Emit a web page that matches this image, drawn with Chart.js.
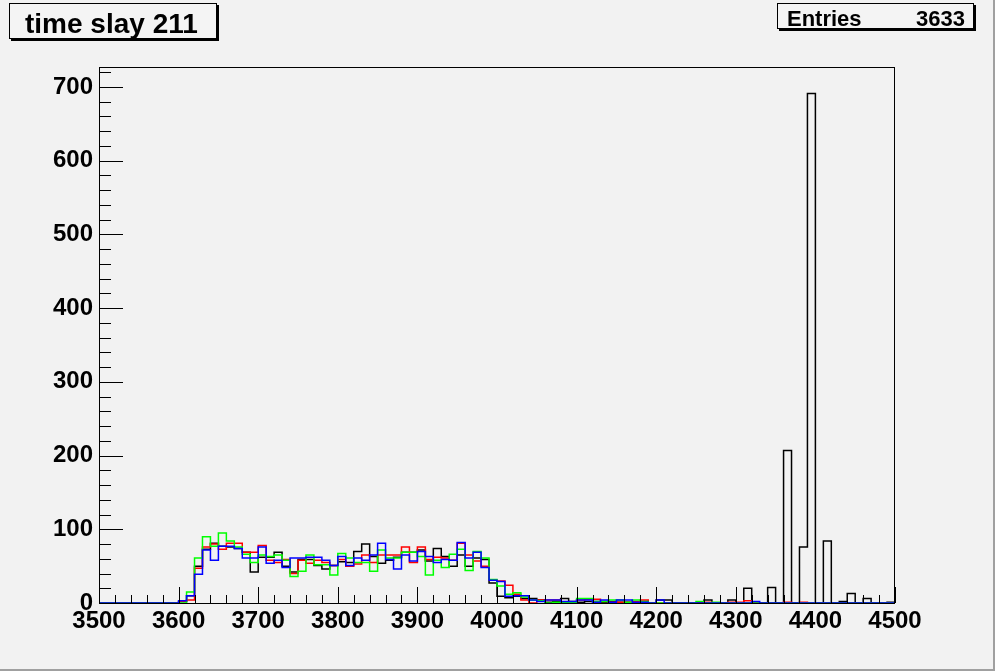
<!DOCTYPE html>
<html>
<head>
<meta charset="utf-8">
<script src="https://cdn.jsdelivr.net/npm/chart.js@4.4.1/dist/chart.umd.min.js"></script>
<style>
  html, body { margin: 0; padding: 0; background: #f2f2f2; }
  canvas { display: block; }
</style>
</head>
<body>
<canvas id="myChart" width="995" height="671"></canvas>
<script>
// bin lower edges: 3500, 3510, ... 4490 (100 bins of width 10)
var binStart = 3500;
var binWidth = 10;

var blackCounts = [
    0, 0, 0, 0, 0, 0, 0, 0, 0, 0,
    2, 10, 50, 73, 81, 77, 76, 74, 69, 42,
    62, 62, 69, 50, 42, 59, 59, 51, 46, 51,
    56, 55, 70, 80, 63, 54, 58, 62, 69, 69,
    72, 57, 74, 63, 50, 65, 50, 61, 59, 27,
    9, 7, 9, 6, 6, 4, 1, 2, 6, 2,
    1, 2, 2, 1, 2, 1, 1, 1, 2, 0,
    4, 4, 0, 0, 0, 0, 4, 0, 0, 4,
    0, 20, 0, 0, 21, 0, 207, 0, 76, 691,
    0, 84, 0, 2, 13, 0, 6, 0, 0, 1
];
var redCounts = [
    0, 0, 0, 0, 0, 0, 0, 0, 0, 0,
    2, 4, 47, 76, 80, 73, 81, 81, 69, 69,
    78, 58, 55, 59, 40, 58, 54, 58, 55, 51,
    59, 50, 53, 65, 55, 65, 65, 65, 76, 55,
    76, 59, 62, 61, 58, 81, 65, 57, 50, 31,
    30, 24, 12, 4, 0, 4, 4, 4, 1, 1,
    4, 5, 5, 2, 1, 1, 1, 2, 4, 0,
    0, 0, 0, 0, 0, 0, 1, 0, 0, 1,
    1, 3, 0, 0, 0, 0, 1, 0, 1, 0,
    0, 0, 0, 0, 0, 0, 0, 0, 0, 0
];
var greenCounts = [
    0, 0, 0, 0, 0, 0, 0, 0, 0, 0,
    0, 15, 61, 90, 77, 95, 84, 76, 66, 55,
    65, 63, 65, 58, 36, 43, 65, 52, 52, 38,
    67, 61, 55, 55, 43, 72, 61, 61, 69, 69,
    63, 38, 58, 48, 66, 73, 44, 70, 61, 32,
    23, 12, 14, 8, 4, 3, 0, 1, 1, 1,
    6, 6, 2, 2, 4, 4, 1, 4, 2, 0,
    0, 0, 0, 0, 0, 2, 0, 1, 0, 0,
    0, 0, 0, 0, 0, 0, 0, 0, 0, 0,
    0, 0, 0, 0, 0, 0, 0, 0, 0, 0
];
var blueCounts = [
    0, 0, 0, 0, 0, 0, 0, 0, 0, 0,
    3, 10, 39, 72, 58, 77, 77, 74, 61, 61,
    76, 54, 58, 48, 61, 61, 62, 62, 58, 51,
    63, 51, 61, 58, 65, 81, 59, 46, 65, 57,
    70, 63, 55, 59, 58, 82, 61, 69, 48, 31,
    29, 9, 10, 10, 4, 2, 4, 4, 2, 2,
    4, 4, 1, 4, 1, 4, 4, 1, 1, 0,
    4, 0, 0, 0, 0, 0, 0, 0, 0, 0,
    0, 0, 2, 0, 0, 0, 0, 0, 0, 0,
    0, 0, 0, 0, 0, 0, 0, 0, 0, 0
];

var xTickValues = [3500, 3600, 3700, 3800, 3900, 4000, 4100, 4200, 4300, 4400, 4500];
var yTickValues = [0, 100, 200, 300, 400, 500, 600, 700];

var titleText = "time slay 211";
var entriesLabel = "Entries";
var entriesValue = "3633";

var labelFont = { family: "'Liberation Sans', Arial, sans-serif", size: 24, weight: "bold" };

// histogram outline: one point per lower bin edge, plus the right edge back to 0
function toSteps(counts) {
    let pts = [];
    for (let i = 0; i < counts.length; i++) {
        pts.push({ x: binStart + i * binWidth, y: counts[i] });
    }
    pts.push({ x: binStart + counts.length * binWidth, y: 0 });
    return pts;
}

function hist(counts, color, order) {
    return {
        data: toSteps(counts),
        borderColor: color,
        borderWidth: 1.5,
        stepped: true,
        fill: false,
        pointRadius: 0,
        order: order
    };
}

function box(ctx, x, y, w, h) {
    ctx.fillStyle = "#000";
    ctx.fillRect(x + 2, y + 2, w + 1, h + 1);
    ctx.fillStyle = "#f4f4f4";
    ctx.fillRect(x, y, w, h);
    ctx.strokeStyle = "#000";
    ctx.lineWidth = 1;
    ctx.strokeRect(x + 0.5, y + 0.5, w, h);
}

var rootStyle = {
    id: "rootStyle",
    beforeDraw(chart) {
        let ctx = chart.ctx;
        ctx.save();
        ctx.fillStyle = "#f2f2f2";
        ctx.fillRect(0, 0, chart.width, chart.height);
        ctx.restore();
    },
    afterDatasetsDraw(chart) {
        let ctx = chart.ctx;
        let a = chart.chartArea;
        let xs = chart.scales.x, ys = chart.scales.y;
        ctx.save();
        ctx.strokeStyle = "#000";
        ctx.lineWidth = 1;
        ctx.beginPath();
        // x ticks, pointing inwards
        for (let v = 3500; v <= 4500; v += 20) {
            let px = Math.round(xs.getPixelForValue(v)) + 0.5;
            let len = (v % 100 === 0) ? 16 : 8;
            ctx.moveTo(px, a.bottom);
            ctx.lineTo(px, a.bottom - len);
        }
        // y ticks
        for (let v = 0; v <= ys.max; v += 20) {
            let py = Math.round(ys.getPixelForValue(v)) + 0.5;
            let len = (v % 100 === 0) ? 24 : 12;
            ctx.moveTo(a.left, py);
            ctx.lineTo(a.left + len, py);
        }
        ctx.stroke();
        ctx.strokeRect(Math.round(a.left) + 0.5, Math.round(a.top) + 0.5,
            Math.round(a.right - a.left) - 1, Math.round(a.bottom - a.top));

        // canvas edge
        ctx.fillStyle = "#a0a0a0";
        ctx.fillRect(0, chart.height - 2, chart.width, 2);
        ctx.fillRect(chart.width - 2, 0, 2, chart.height);

        // title and stats boxes
        box(ctx, 9, 3, 207, 35);
        ctx.fillStyle = "#000";
        ctx.font = "bold 28px 'Liberation Sans', Arial, sans-serif";
        ctx.textBaseline = "alphabetic";
        ctx.textAlign = "left";
        ctx.fillText(titleText, 25, 33);

        box(ctx, 777, 3, 196, 25);
        ctx.fillStyle = "#000";
        ctx.font = "bold 22px 'Liberation Sans', Arial, sans-serif";
        ctx.textAlign = "left";
        ctx.fillText(entriesLabel, 787, 26);
        ctx.textAlign = "right";
        ctx.fillText(entriesValue, 965, 26);
        ctx.restore();
    }
};

new Chart("myChart", {
    type: "line",
    data: {
        datasets: [
            hist(blueCounts, "#0000ff", 0),
            hist(greenCounts, "#00ff00", 1),
            hist(redCounts, "#ff0000", 2),
            hist(blackCounts, "#000000", 3)
        ]
    },
    options: {
        responsive: false,
        animation: false,
        layout: { padding: { top: 67, right: 100, left: 0, bottom: 0 } },
        plugins: {
            legend: { display: false },
            tooltip: { enabled: false }
        },
        scales: {
            x: {
                type: "linear",
                min: 3500,
                max: 4500,
                afterBuildTicks: s => { s.ticks = xTickValues.map(v => ({ value: v })); },
                afterFit: s => { s.height = 68; },
                ticks: { font: labelFont, color: "#000", padding: 4, maxRotation: 0, autoSkip: false,
                    callback: v => String(v) },
                grid: { display: false, drawTicks: false },
                border: { display: false }
            },
            y: {
                min: 0,
                max: 727,
                afterBuildTicks: s => { s.ticks = yTickValues.map(v => ({ value: v })); },
                afterFit: s => { s.width = 99; },
                ticks: { font: labelFont, color: "#000", padding: 6, callback: v => String(v) },
                grid: { display: false, drawTicks: false },
                border: { display: false }
            }
        }
    },
    plugins: [rootStyle]
});
</script>
</body>
</html>
